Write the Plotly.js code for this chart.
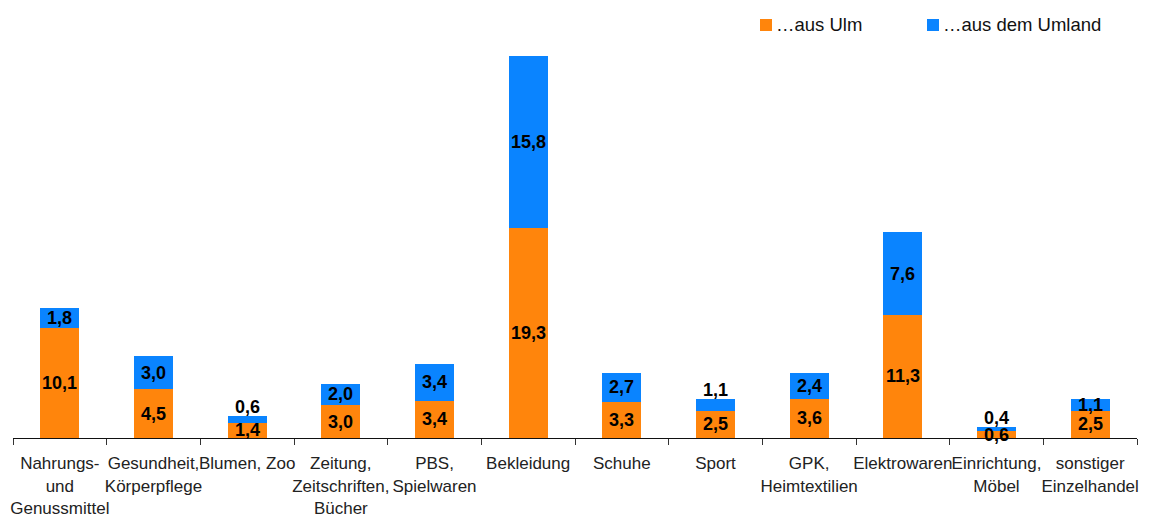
<!DOCTYPE html>
<html>
<head>
<meta charset="utf-8">
<script src="https://cdn.plot.ly/plotly-3.0.1.min.js"></script>
<style>
html,body{margin:0;padding:0;background:#fff;}
#chart{width:1150px;height:517px;}
</style>
</head>
<body>
<div id="chart"></div>
<script>
var categories = [
  "Nahrungs-<br>und<br>Genussmittel",
  "Gesundheit,<br>Körperpflege",
  "Blumen, Zoo",
  "Zeitung,<br>Zeitschriften,<br>Bücher",
  "PBS,<br>Spielwaren",
  "Bekleidung",
  "Schuhe",
  "Sport",
  "GPK,<br>Heimtextilien",
  "Elektrowaren",
  "Einrichtung,<br>Möbel",
  "sonstiger<br>Einzelhandel"
];
var seriesNames = ["…aus Ulm", "…aus dem Umland"];
var ausUlm    = [10.1, 4.5, 1.4, 3.0, 3.4, 19.3, 3.3, 2.5, 3.6, 11.3, 0.6, 2.5];
var ausUmland = [1.8, 3.0, 0.6, 2.0, 3.4, 15.8, 2.7, 1.1, 2.4, 7.6, 0.4, 1.1];
// where the Umland label sits: "mid" of segment or "top" above the bar
var umlandLabelPos = ["mid","mid","top","mid","mid","mid","mid","top","mid","mid","top","mid"];

var ORANGE = "#FF850C";
var BLUE = "#0A84FF";
var FONT = "Liberation Sans, Arial, Helvetica, sans-serif";

// plot box in pixels (for the hand-drawn legend)
var W = 1150, H = 517, ML = 13, MR = 13, MT = 46, MB = 79;
var PW = W - ML - MR, PH = H - MT - MB;
function px2x(p){ return (p - ML) / PW; }
function px2y(p){ return (H - MB - p) / PH; }

function fmt(v){ return v.toFixed(1).replace('.', ','); }

var traces = [
  {type:'bar', name:seriesNames[0], x:categories, y:ausUlm, marker:{color:ORANGE}, hoverinfo:'none'},
  {type:'bar', name:seriesNames[1], x:categories, y:ausUmland, marker:{color:BLUE}, hoverinfo:'none'}
];

var annotations = [];
var labelFont = {family:FONT, size:18, color:'#000'};
for (var i=0;i<categories.length;i++){
  annotations.push({x:categories[i], y:ausUlm[i]/2, xref:'x', yref:'y', text:'<b>'+fmt(ausUlm[i])+'</b>',
    showarrow:false, font:labelFont, yanchor:'middle'});
  if (umlandLabelPos[i]==='top'){
    annotations.push({x:categories[i], y:ausUlm[i]+ausUmland[i], xref:'x', yref:'y', text:'<b>'+fmt(ausUmland[i])+'</b>',
      showarrow:false, font:labelFont, yanchor:'bottom', yshift:-3});
  } else {
    annotations.push({x:categories[i], y:ausUlm[i]+ausUmland[i]/2, xref:'x', yref:'y', text:'<b>'+fmt(ausUmland[i])+'</b>',
      showarrow:false, font:labelFont, yanchor:'middle'});
  }
}

// hand-drawn legend (square + text), positioned like the reference
var legendItems = [
  {sq:760, color:ORANGE, name:seriesNames[0]},
  {sq:927, color:BLUE, name:seriesNames[1]}
];
var shapes = [];
legendItems.forEach(function(it){
  shapes.push({type:'rect', xref:'paper', yref:'paper',
    x0:px2x(it.sq), x1:px2x(it.sq+12), y0:px2y(31), y1:px2y(19),
    fillcolor:it.color, line:{width:0}});
  annotations.push({xref:'paper', yref:'paper', x:px2x(it.sq+14), y:px2y(24),
    xanchor:'left', yanchor:'middle', text:it.name, showarrow:false,
    font:{family:FONT, size:18.5, color:'#111'}});
});

var layout = {
  width:W, height:H,
  margin:{l:ML, r:MR, t:MT, b:MB, pad:0, autoexpand:false},
  barmode:'stack',
  bargap:0.584,
  paper_bgcolor:'#fff', plot_bgcolor:'#fff',
  font:{family:FONT, size:17, color:'#222'},
  showlegend:false,
  xaxis:{
    type:'category',
    showline:true, linecolor:'#111', linewidth:1,
    ticks:'outside', tickson:'boundaries', ticklen:6, tickcolor:'#333', tickwidth:1,
    tickfont:{family:FONT, size:17, color:'#222'},
    ticklabelstandoff:10,
    showgrid:false, zeroline:false, tickangle:0, automargin:false
  },
  yaxis:{
    range:[0,36], visible:false, showgrid:false, zeroline:false, fixedrange:true
  },
  shapes:shapes,
  annotations:annotations
};

Plotly.newPlot('chart', traces, layout, {displayModeBar:false, staticPlot:true});
</script>
</body>
</html>
